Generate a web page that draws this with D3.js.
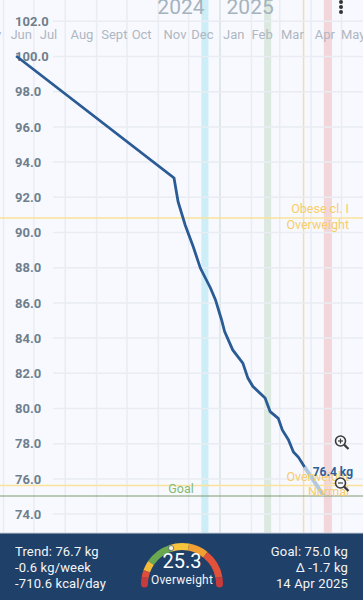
<!DOCTYPE html>
<html lang="en">
<head>
<meta charset="utf-8">
<script src="https://d3js.org/d3.v7.min.js"></script>
<style>
    html, body { margin: 0; padding: 0; background: #f8f9ff; overflow: hidden; }
    svg { display: block; font-family: Roboto, sans-serif; }
</style>
</head>
<body>
<script>
    var width = 363, height = 600, footerTop = 533;

    // weight trend
    var trendDates = ['2024-06-14','2024-11-17','2024-11-21','2024-11-28','2024-12-06','2024-12-13','2024-12-23','2024-12-28',
        '2025-01-03','2025-01-06','2025-01-14','2025-01-24','2025-01-29','2025-02-03','2025-02-15','2025-02-20',
        '2025-02-28','2025-03-04','2025-03-10','2025-03-15','2025-03-20','2025-03-26'];
    var trendValues = [100.0,93.07,91.72,90.4,89.16,87.95,86.82,86.14,85.0,84.34,83.3,82.55,81.7,81.22,80.57,79.79,79.41,78.75,78.2,77.5,77.2,76.65];
    var projDates = ['2025-03-26','2025-04-14'];
    var projValues = [76.65,75.0];

    var monthTicks = ['2024-06-01','2024-07-01','2024-08-01','2024-09-01','2024-10-01','2024-11-01','2024-12-01',
        '2025-01-01','2025-02-01','2025-03-01','2025-04-01','2025-05-01'];
    var monthNames = ['May','Jun','Jul','Aug','Sept','Oct','Nov','Dec','Jan','Feb','Mar','Apr','May'];
    var monthLabelDates = ['2024-05-18','2024-06-19','2024-07-16','2024-08-18','2024-09-19','2024-10-16','2024-11-18',
        '2024-12-15','2025-01-15','2025-02-12','2025-03-14','2025-04-15','2025-05-13'];
    var yTicks = [74,76,78,80,82,84,86,88,90,92,94,96,98,100,102];

    var bandStarts = ['2024-12-14','2025-02-14','2025-04-14'];
    var bandEnds = ['2024-12-21','2025-02-21','2025-04-22'];
    var bandColors = ['#cdeef6','#dbe9e0','#f3d6da'];

    var bmiLines = [90.8,75.6];
    var goal = 75.0;

    // gauge
    var gaugeStops = [12.5,14.3,16,18.5,25,30,35,42.2,44];
    var gaugeColors = ['#c63b3c','#dd4f3c','#f3bb3b','#6aa84f','#f9c33c','#f2a033','#e2513a','#c63b3c'];
    var bmi = 25.3;

    var parse = d3.utcParse('%Y-%m-%d');
    var x = d3.scaleUtc().domain([parse('2024-06-01'), parse('2025-05-01')]).range([3, 341]);
    var y = d3.scaleLinear().domain([100, 74]).range([56, 513.6]);

    var svg = d3.select('body').append('svg').attr('width', width).attr('height', height);

    // bands
    svg.selectAll('.band').data(bandStarts).join('rect').attr('class', 'band')
        .attr('x', function(d) { return x(parse(d)); })
        .attr('width', function(d, i) { return x(parse(bandEnds[i])) - x(parse(d)); })
        .attr('y', 0).attr('height', footerTop)
        .attr('fill', function(d, i) { return bandColors[i]; });

    // vertical grid
    var xGrid = svg.append('g').call(d3.axisTop(x).tickValues(monthTicks.map(parse)).tickSize(-footerTop).tickFormat(''));
    xGrid.select('.domain').remove();
    xGrid.selectAll('line').attr('stroke', function(d) {
        return d.getUTCMonth() == 0 ? '#d8e2e6' : '#e9ecf2';
    }).attr('stroke-width', 1.5);

    // today line
    svg.append('line').attr('x1', x(parse('2025-03-25'))).attr('x2', x(parse('2025-03-25')))
        .attr('y1', 0).attr('y2', footerTop).attr('stroke', '#f0dcb8').attr('stroke-width', 1.5);

    // horizontal grid + labels
    var yAxis = svg.append('g').call(d3.axisRight(y).tickValues(yTicks).tickSize(width).tickFormat(d3.format('.1f')));
    yAxis.select('.domain').remove();
    yAxis.selectAll('line').attr('x1', 53).attr('stroke', '#e9ecf2').attr('stroke-width', 1.5);
    yAxis.selectAll('text').attr('x', 15).attr('dy', '0.36em')
        .attr('font-size', 13).attr('font-weight', 700).attr('font-family', 'Roboto').attr('fill', '#6f7f8c')
        .attr('text-anchor', 'start');

    // month and year labels
    svg.selectAll('.month').data(monthNames).join('text').attr('class', 'month')
        .attr('x', function(d, i) { return x(parse(monthLabelDates[i])); })
        .attr('y', 39).attr('text-anchor', 'middle').attr('font-size', 13).attr('fill', '#aeb7c2')
        .text(function(d) { return d; });
    svg.append('text').attr('x', x(parse('2025-01-01')) - 15).attr('y', 14).attr('text-anchor', 'end')
        .attr('font-size', 21).attr('fill', '#a5b3bd').text('2024');
    svg.append('text').attr('x', x(parse('2025-01-01')) + 7).attr('y', 14).attr('text-anchor', 'start')
        .attr('font-size', 21).attr('fill', '#a5b3bd').text('2025');

    // bmi limits and goal
    svg.selectAll('.bmi').data(bmiLines).join('line').attr('class', 'bmi')
        .attr('x1', 0).attr('x2', width).attr('y1', y).attr('y2', y)
        .attr('stroke', '#fae29a').attr('stroke-width', 1.5);
    svg.append('line').attr('x1', 0).attr('x2', width).attr('y1', y(goal)).attr('y2', y(goal))
        .attr('stroke', '#7d9a72').attr('stroke-width', 1);

    var line = d3.line().x(function(d) { return x(d[0]); }).y(function(d) { return y(d[1]); });
    svg.append('path').datum(d3.zip(projDates.map(parse), projValues)).attr('d', line)
        .attr('fill', 'none').attr('stroke', '#b3cade').attr('stroke-width', 4);
    svg.append('path').datum(d3.zip(trendDates.map(parse), trendValues)).attr('d', line)
        .attr('fill', 'none').attr('stroke', '#2a5b94').attr('stroke-width', 2.8);

    function bmiLabel(txt, base) {
        svg.append('text').attr('x', 349).attr('y', base).attr('text-anchor', 'end')
            .attr('font-size', 12.5).attr('fill', '#f7cd68').text(txt);
    }
    bmiLabel('Obese cl. I', y(bmiLines[0]) - 5);
    bmiLabel('Overweight', y(bmiLines[0]) + 11);
    bmiLabel('Overweight', y(bmiLines[1]) - 4);
    bmiLabel('Normal', y(bmiLines[1]) + 11);

    svg.append('text').attr('x', 181).attr('y', y(goal) - 3.5).attr('text-anchor', 'middle')
        .attr('font-size', 12.5).attr('fill', '#86b973').text('Goal');
    svg.append('text').attr('x', 353).attr('y', 476).attr('text-anchor', 'end')
        .attr('font-size', 12).attr('font-weight', 700).attr('fill', '#2f5f96').text('76.4 kg');

    // zoom buttons
    function zoomIcon(cy, plus) {
        var g = svg.append('g').attr('transform', 'translate(340.5,' + cy + ')')
            .attr('stroke', '#3b3b3b').attr('fill', 'none');
        g.append('circle').attr('r', 5).attr('stroke-width', 1.6).attr('fill', '#f8f9ff');
        g.append('line').attr('x1', 3.6).attr('y1', 3.6).attr('x2', 8).attr('y2', 8).attr('stroke-width', 2.2);
        g.append('line').attr('x1', -2.5).attr('x2', 2.5).attr('stroke-width', 1.2);
        if (plus) g.append('line').attr('y1', -2.5).attr('y2', 2.5).attr('stroke-width', 1.2);
    }
    zoomIcon(441, true);
    zoomIcon(483, false);

    // menu dots
    svg.selectAll('.dot').data([2, 7, 12]).join('circle').attr('class', 'dot')
        .attr('cx', 341).attr('cy', function(d) { return d; }).attr('r', 2).attr('fill', '#333');

    // footer
    svg.append('rect').attr('y', footerTop).attr('width', width).attr('height', height - footerTop).attr('fill', '#1f4068');
    svg.append('line').attr('x1', 0).attr('x2', width).attr('y1', footerTop).attr('y2', footerTop)
        .attr('stroke', '#c9d0da');

    var leftLines = ['Trend: 76.7 kg', '-0.6 kg/week', '-710.6 kcal/day'];
    var rightLines = ['Goal: 75.0 kg', 'Δ -1.7 kg', '14 Apr 2025'];
    svg.selectAll('.left').data(leftLines).join('text').attr('class', 'left')
        .attr('x', 15).attr('y', function(d, i) { return 556 + i * 16; })
        .attr('font-size', 13).attr('letter-spacing', 0.15).attr('fill', '#f3f5f8').text(function(d) { return d; });
    svg.selectAll('.right').data(rightLines).join('text').attr('class', 'right')
        .attr('x', 348).attr('y', function(d, i) { return 556 + i * 16; }).attr('text-anchor', 'end')
        .attr('font-size', 13).attr('letter-spacing', 0.15).attr('fill', '#f3f5f8').text(function(d) { return d; });

    var angle = d3.scaleLinear().domain([12.5, 44]).range([-Math.PI / 2, Math.PI / 2]);
    var gauge = svg.append('g').attr('transform', 'translate(182,584)');
    var arc = d3.arc().innerRadius(34).outerRadius(41);
    var ends = d3.pairs(gaugeStops);
    // round caps at both ends
    gauge.append('circle').attr('cx', -37.5).attr('cy', 0).attr('r', 3.5).attr('fill', gaugeColors[0]);
    gauge.append('circle').attr('cx', 37.5).attr('cy', 0).attr('r', 3.5).attr('fill', gaugeColors[7]);
    gauge.selectAll('.seg').data(ends).join('path').attr('class', 'seg')
        .attr('d', function(d) { return arc({startAngle: angle(d[0]), endAngle: angle(d[1])}); })
        .attr('fill', function(d, i) { return gaugeColors[i]; });
    var a = angle(bmi);
    gauge.append('circle').attr('cx', 37.5 * Math.sin(a)).attr('cy', -37.5 * Math.cos(a)).attr('r', 2.6)
        .attr('fill', '#f6f0d8').attr('stroke', '#1f4068').attr('stroke-width', 0.6);
    gauge.append('text').attr('y', -16).attr('text-anchor', 'middle').attr('font-size', 20).attr('fill', '#fff').text(bmi);
    gauge.append('text').attr('y', 0).attr('text-anchor', 'middle').attr('font-size', 12)
        .attr('letter-spacing', 0.2).attr('fill', '#f3f5f8').text('Overweight');
</script>
</body>
</html>
